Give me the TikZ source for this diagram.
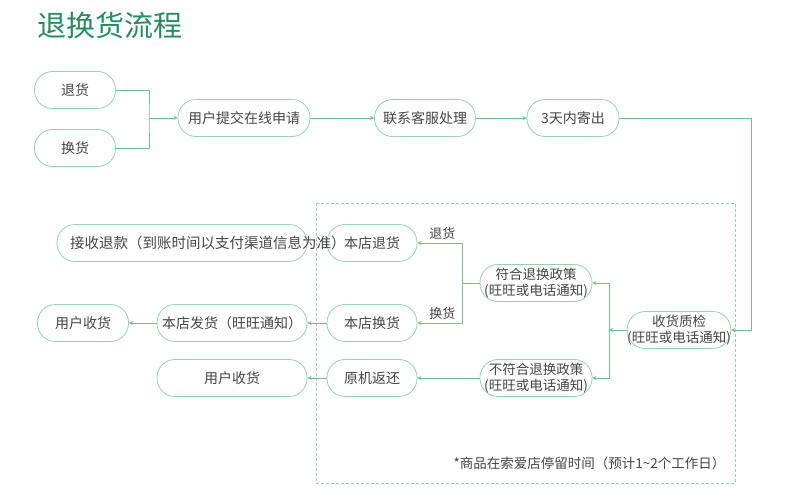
\documentclass[tikz,border=0pt]{standalone}
\usepackage{fontspec}
\setmainfont{Noto Sans CJK SC}
\usetikzlibrary{arrows.meta, positioning}
\definecolor{mygreen}{RGB}{38,140,95}
\definecolor{myline}{RGB}{110,195,145}
\definecolor{myframe}{RGB}{150,210,175}
\definecolor{mytext}{RGB}{68,68,68}
\tikzset{
  pill/.style={rectangle, draw=myframe, rounded corners=18pt,
    minimum height=37pt, inner sep=0pt, text=mytext,
    font=\fontsize{14}{16}\selectfont, line width=0.8pt},
  twoline/.style={pill, align=center, font=\fontsize{13.5}{16}\selectfont},
  arrow/.style={-{Stealth[length=4pt,width=4pt]}, color=myline, line width=0.8pt},
  line/.style={color=myline, line width=0.8pt},
  tag/.style={text=mytext, font=\fontsize{13}{15}\selectfont, inner sep=3pt}
}

\begin{document}
\begin{tikzpicture}[x=1pt, y=-1pt]
  \useasboundingbox (0,0) rectangle (791,500);

  % Title
  \node[font=\fontsize{29}{32}\selectfont, text=mygreen, anchor=west] (title) at (34,25) {退换货流程};

  % Store frame
  \draw[myframe, line width=0.8pt, dash pattern=on 3pt off 2pt] (316,203) rectangle (735,483);
  \node[anchor=east, text=mytext, font=\fontsize{13.5}{16}\selectfont] (note) at (729,463)
    {*商品在索爱店停留时间（预计1\textasciitilde 2个工作日）};

  % Top row
  \node[pill, minimum width=81pt] (ret) at (75,90) {退货};
  \node[pill, minimum width=81pt] (exc) at (75,148) {换货};
  \node[pill, minimum width=132pt] (apply) at (244,118) {用户提交在线申请};
  \node[pill, minimum width=101pt] (service) at (425,118) {联系客服处理};
  \node[pill, minimum width=92pt] (ship) at (573,118) {3天内寄出};

  % Inspection
  \node[twoline, minimum width=92pt] (check) at (679,330) {收货质检\\(旺旺或电话通知)};
  \node[twoline, minimum width=112pt] (ok) at (536,283) {符合退换政策\\(旺旺或电话通知)};
  \node[twoline, minimum width=112pt] (notok) at (536,378) {不符合退换政策\\(旺旺或电话通知)};

  % Store actions
  \node[pill, minimum width=90pt] (shopret) at (372,243) {本店退货};
  \node[pill, minimum width=90pt] (shopexc) at (372,323) {本店换货};
  \node[pill, minimum width=90pt] (back) at (372,378) {原机返还};

  % Results
  \node[pill, minimum width=250pt, font=\fontsize{14.5}{16}\selectfont] (refund) at (182,243)
    {\makebox[224pt][l]{接收退款（到账时间以支付渠道信息为准）}};
  \node[pill, minimum width=150pt] (send) at (232,323) {本店发货（旺旺通知）};
  \node[pill, minimum width=91pt] (recv1) at (83,323) {用户收货};
  \node[pill, minimum width=150pt] (recv2) at (232,378) {用户收货};

  % Connectors
  \coordinate (j1) at (149,118);
  \draw[line] (ret.east) -| (j1) |- (exc.east);
  \draw[arrow] (j1) -- (apply.west);
  \draw[arrow] (apply) -- (service);
  \draw[arrow] (service) -- (ship);
  \coordinate (turn) at (751,118);
  \draw[arrow] (ship.east) -- (turn) |- (check.east);

  \coordinate (j2) at (609,330);
  \draw[arrow] (check.west) -- (j2);
  \draw[arrow] (j2) |- (ok.east);
  \draw[arrow] (j2) |- (notok.east);

  \coordinate (j3) at (462,283);
  \draw[line] (ok.west) -- (j3);
  \draw[arrow] (j3) |- node[tag, pos=0.72, above] {退货} (shopret.east);
  \draw[arrow] (j3) |- node[tag, pos=0.72, above] {换货} (shopexc.east);
  \draw[arrow] (notok) -- (back);

  \draw[arrow] (shopexc) -- (send);
  \draw[arrow] (send) -- (recv1);
  \draw[arrow] (back) -- (recv2);
\end{tikzpicture}
\end{document}
